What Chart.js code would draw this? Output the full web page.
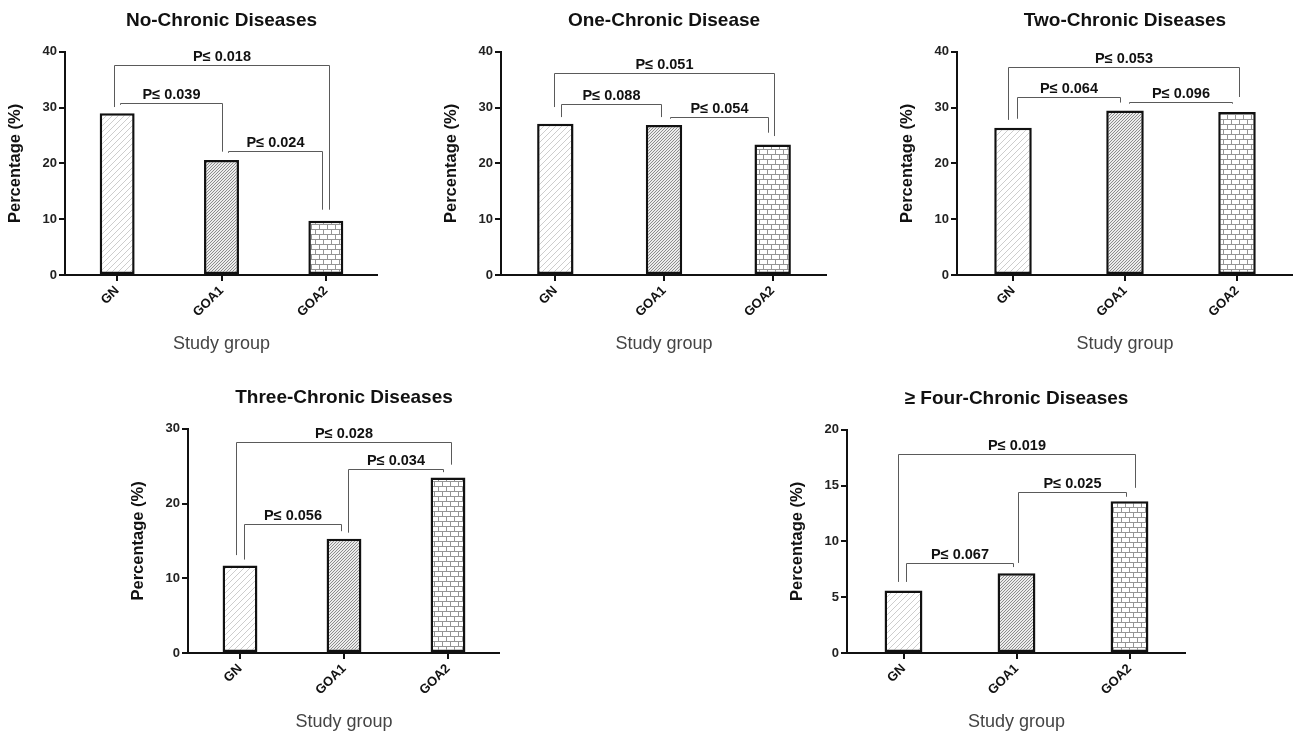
<!DOCTYPE html>
<html>
<head>
<meta charset="utf-8">
<script src="https://cdn.jsdelivr.net/npm/chart.js@4.4.1/dist/chart.umd.min.js"></script>
<style>
  body { margin: 0; background: #fff; overflow: hidden; width: 1293px; height: 733px; position: relative; }
  canvas { position: absolute; }
</style>
</head>
<body>
<canvas id="c1"></canvas>
<canvas id="c2"></canvas>
<canvas id="c3"></canvas>
<canvas id="c4"></canvas>
<canvas id="c5"></canvas>
<script>
var groups = ['GN', 'GOA1', 'GOA2'];

var noChronic = [29.0, 20.6, 9.7];
var oneChronic = [27.1, 26.9, 23.4];
var twoChronic = [26.4, 29.5, 29.2];
var threeChronic = [11.7, 15.3, 23.5];
var fourChronic = [5.6, 7.15, 13.6];

// significance brackets: [from, to, bracket level, left leg end, right leg end, label]
var noChronicP = [
  [0, 2, 37.7, 30.1, 11.7, 'P≤ 0.018'],
  [0, 1, 30.9, 30.5, 22.1, 'P≤ 0.039'],
  [1, 2, 22.2, 21.9, 11.7, 'P≤ 0.024']
];
var oneChronicP = [
  [0, 2, 36.2, 30.1, 24.9, 'P≤ 0.051'],
  [0, 1, 30.7, 28.3, 28.3, 'P≤ 0.088'],
  [1, 2, 28.3, 28.0, 25.5, 'P≤ 0.054']
];
var twoChronicP = [
  [0, 2, 37.3, 27.8, 31.9, 'P≤ 0.053'],
  [0, 1, 31.9, 28.0, 30.9, 'P≤ 0.064'],
  [1, 2, 31.0, 30.7, 30.7, 'P≤ 0.096']
];
var threeChronicP = [
  [0, 2, 28.3, 13.1, 25.2, 'P≤ 0.028'],
  [1, 2, 24.6, 16.1, 24.2, 'P≤ 0.034'],
  [0, 1, 17.3, 12.5, 16.3, 'P≤ 0.056']
];
var fourChronicP = [
  [0, 2, 17.85, 6.37, 14.8, 'P≤ 0.019'],
  [1, 2, 14.4, 8.07, 14.0, 'P≤ 0.025'],
  [0, 1, 8.07, 6.37, 7.7, 'P≤ 0.067']
];

var FONT = '"Liberation Sans", Arial, sans-serif';

// fill patterns for the three groups
function makePattern(kind) {
  var c = document.createElement('canvas');
  var g = c.getContext('2d');
  if (kind === 'light') {
    c.width = 6; c.height = 6;
    g.fillStyle = '#fff'; g.fillRect(0, 0, 6, 6);
    g.strokeStyle = '#cdcdcd'; g.lineWidth = 1;
    g.beginPath();
    g.moveTo(0, 6); g.lineTo(6, 0);
    g.moveTo(-3, 3); g.lineTo(3, -3);
    g.moveTo(3, 9); g.lineTo(9, 3);
    g.stroke();
  } else if (kind === 'dense') {
    c.width = 3; c.height = 3;
    g.fillStyle = '#ececec'; g.fillRect(0, 0, 3, 3);
    g.strokeStyle = '#8c8c8c'; g.lineWidth = 1;
    g.beginPath();
    g.moveTo(0, 3); g.lineTo(3, 0);
    g.moveTo(-1.5, 1.5); g.lineTo(1.5, -1.5);
    g.moveTo(1.5, 4.5); g.lineTo(4.5, 1.5);
    g.stroke();
  } else {
    c.width = 16; c.height = 10;
    g.fillStyle = '#fff'; g.fillRect(0, 0, 16, 10);
    g.strokeStyle = '#959595'; g.lineWidth = 1;
    g.beginPath();
    g.moveTo(0, 0.5); g.lineTo(16, 0.5);
    g.moveTo(0, 5.5); g.lineTo(16, 5.5);
    g.moveTo(0.5, 0); g.lineTo(0.5, 5);
    g.moveTo(8.5, 0); g.lineTo(8.5, 5);
    g.moveTo(4.5, 5); g.lineTo(4.5, 10);
    g.moveTo(12.5, 5); g.lineTo(12.5, 10);
    g.stroke();
  }
  return g.createPattern(c, 'repeat');
}
var fills = [makePattern('light'), makePattern('dense'), makePattern('brick')];

function bracketPlugin(items, nudge) {
  return {
    id: 'brackets',
    afterDatasetsDraw: function(chart) {
      var ctx = chart.ctx, x = chart.scales.x, y = chart.scales.y;
      var step = x.getPixelForValue(1) - x.getPixelForValue(0);
      ctx.save();
      ctx.strokeStyle = '#5a5a5a';
      ctx.lineWidth = 1;
      ctx.fillStyle = '#111';
      ctx.font = 'bold 14.5px ' + FONT;
      ctx.textAlign = 'center';
      ctx.textBaseline = 'alphabetic';
      items.forEach(function(b, k) {
        var n = nudge[k];
        var x1 = Math.round(x.getPixelForValue(b[0]) + n[0] * step) + 0.5;
        var x2 = Math.round(x.getPixelForValue(b[1]) + n[1] * step) + 0.5;
        var yt = Math.round(y.getPixelForValue(b[2])) + 0.5;
        ctx.beginPath();
        ctx.moveTo(x1, y.getPixelForValue(b[3]));
        ctx.lineTo(x1, yt);
        ctx.lineTo(x2, yt);
        ctx.lineTo(x2, y.getPixelForValue(b[4]));
        ctx.stroke();
        ctx.fillText(b[5], (x1 + x2) / 2, yt - 5);
      });
      ctx.restore();
    }
  };
}

var panels = [
  { id: 'c1', title: 'No-Chronic Diseases', values: noChronic, brackets: noChronicP, max: 40, step: 10,
    left: 3, top: 9, width: 375, height: 348,
    nudge: [[-0.03, 0.03], [0.03, 0], [0.06, -0.04]] },
  { id: 'c2', title: 'One-Chronic Disease', values: oneChronic, brackets: oneChronicP, max: 40, step: 10,
    left: 439, top: 9, width: 388, height: 348,
    nudge: [[-0.01, 0.01], [0.05, -0.03], [0.055, -0.045]] },
  { id: 'c3', title: 'Two-Chronic Diseases', values: twoChronic, brackets: twoChronicP, max: 40, step: 10,
    left: 895, top: 9, width: 398, height: 348,
    nudge: [[-0.045, 0.02], [0.035, -0.045], [0.035, -0.045]] },
  { id: 'c4', title: 'Three-Chronic Diseases', values: threeChronic, brackets: threeChronicP, max: 30, step: 10,
    left: 126, top: 386, width: 374, height: 349,
    nudge: [[-0.04, 0.03], [0.04, -0.05], [0.04, -0.03]] },
  { id: 'c5', title: '≥ Four-Chronic Diseases', values: fourChronic, brackets: fourChronicP, max: 20, step: 5,
    left: 785, top: 387, width: 401, height: 348,
    nudge: [[-0.05, 0.05], [0.01, -0.03], [0.02, -0.035]] }
];

panels.forEach(function(p) {
  var cv = document.getElementById(p.id);
  cv.width = p.width;
  cv.height = p.height;
  cv.style.left = p.left + 'px';
  cv.style.top = p.top + 'px';

  new Chart(cv.getContext('2d'), {
    type: 'bar',
    data: {
      labels: groups,
      datasets: [{
        data: p.values,
        backgroundColor: fills,
        borderColor: '#111',
        borderWidth: 2.5,
        borderSkipped: false,
        barPercentage: 0.335,
        categoryPercentage: 1
      }]
    },
    options: {
      responsive: false,
      animation: false,
      layout: { padding: 0 },
      plugins: {
        legend: { display: false },
        tooltip: { enabled: false },
        title: {
          display: true,
          text: p.title,
          fullSize: false,
          color: '#111',
          font: { family: FONT, size: 19, weight: 'bold' },
          padding: { top: 0, bottom: 20 }
        }
      },
      scales: {
        x: {
          offset: true,
          grid: { offset: false, drawOnChartArea: false, drawTicks: true, tickLength: 6, color: '#111', lineWidth: 2 },
          border: { display: true, color: '#111', width: 2 },
          ticks: { color: '#111', font: { family: FONT, size: 13, weight: 'bold' }, minRotation: 45, maxRotation: 45, padding: 2 },
          title: { display: true, text: 'Study group', color: '#444', font: { family: FONT, size: 18 }, padding: { top: 0, bottom: 2 } },
          afterFit: function(s) { s.height = 82; }
        },
        y: {
          min: 0,
          max: p.max,
          grid: { drawOnChartArea: false, drawTicks: true, tickLength: 6, color: '#111', lineWidth: 2 },
          border: { display: true, color: '#111', width: 2 },
          ticks: { stepSize: p.step, color: '#222', font: { family: FONT, size: 13, weight: 'bold' }, padding: 2 },
          title: { display: true, text: 'Percentage (%)', color: '#111', font: { family: FONT, size: 16.5, weight: 'bold' }, padding: { top: 3, bottom: 0 } },
          afterFit: function(s) { s.width = 62; }
        }
      }
    },
    plugins: [bracketPlugin(p.brackets, p.nudge)]
  });
});
</script>
</body>
</html>
